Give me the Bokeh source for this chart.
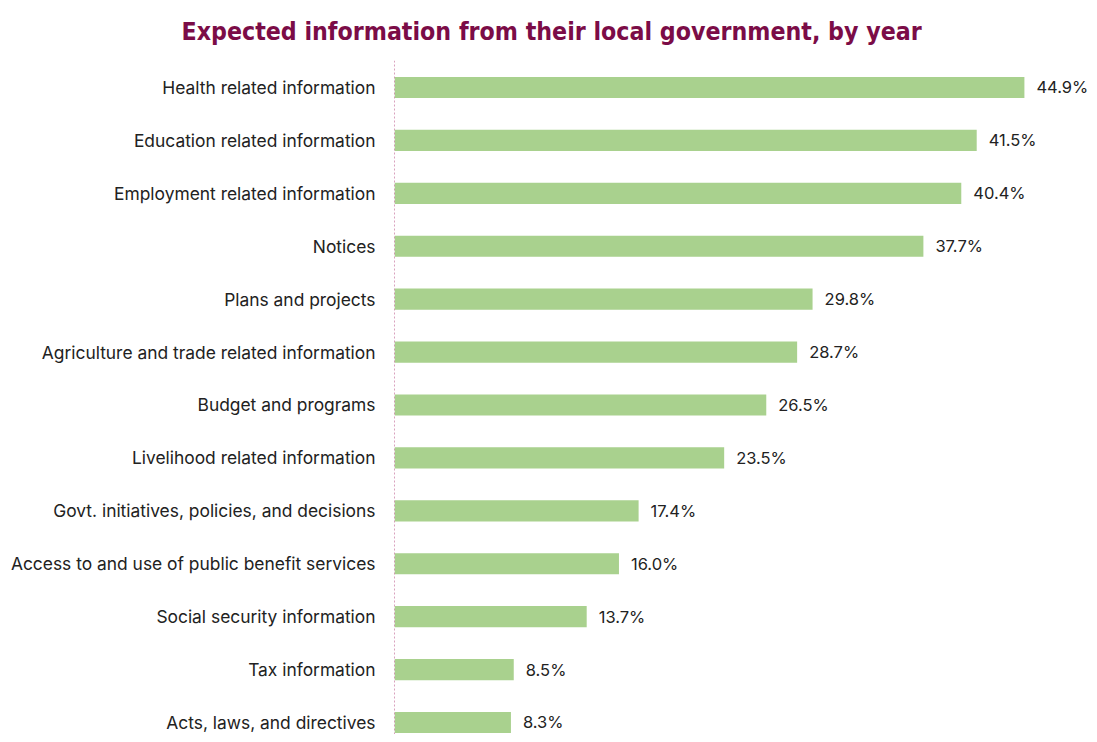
from bokeh.plotting import figure
from bokeh.models import Range1d, FixedTicker, Span, ColumnDataSource
from bokeh.core.properties import value
from bokeh.embed import file_html
from bokeh.resources import INLINE

categories = [
    "Health related information",
    "Education related information",
    "Employment related information",
    "Notices",
    "Plans and projects",
    "Agriculture and trade related information",
    "Budget and programs",
    "Livelihood related information",
    "Govt. initiatives, policies, and decisions",
    "Access to and use of public benefit services",
    "Social security information",
    "Tax information",
    "Acts, laws, and directives",
]
values = [44.9, 41.5, 40.4, 37.7, 29.8, 28.7, 26.5, 23.5, 17.4, 16.0, 13.7, 8.5, 8.3]
title_text = "Expected information from their local government, by year"

pos = list(range(len(categories)))
src = ColumnDataSource(dict(y=pos, v=values, lab=[f"{v:.1f}%" for v in values]))

p = figure(width=1089, height=734, output_backend="svg", toolbar_location=None,
           x_range=Range1d(0, 49.54), y_range=Range1d(12.227, -0.51),
           min_border_left=394, min_border_right=0, min_border_top=60, min_border_bottom=0,
           title=title_text)
p.outline_line_color = None
p.grid.visible = False
p.xaxis.visible = False
p.background_fill_color = "white"
p.border_fill_color = "white"

p.title.align = "left"
p.title.offset = -213
p.title.standoff = 29
p.title.text_font = "'DejaVu Sans Condensed', Roboto, sans-serif"
p.title.text_font_style = "bold"
p.title.text_font_size = "24.7px"
p.title.text_color = "#7b0c47"

p.hbar(y="y", right="v", left=0, height=0.4, source=src, fill_color="#a9d18e", line_color=None)
p.text(x="v", y="y", text="lab", source=src, x_offset=12, text_baseline="middle",
       text_font=value("Inter"), text_font_size="16.5px", text_color="#222222")

p.add_layout(Span(location=0, dimension="height", line_color="#b4467e", line_width=1, line_dash="2 2"))

ax = p.yaxis[0]
ax.ticker = FixedTicker(ticks=pos)
ax.major_label_overrides = {i: c for i, c in zip(pos, categories)}
ax.axis_line_color = None
ax.major_tick_line_color = None
ax.minor_tick_line_color = None
ax.major_tick_out = 0
ax.major_tick_in = 0
ax.major_label_standoff = 19
ax.major_label_text_font = "Inter"
ax.major_label_text_font_size = "17.4px"
ax.major_label_text_color = "#222222"

open("out.html", "w").write(file_html(p, INLINE))
